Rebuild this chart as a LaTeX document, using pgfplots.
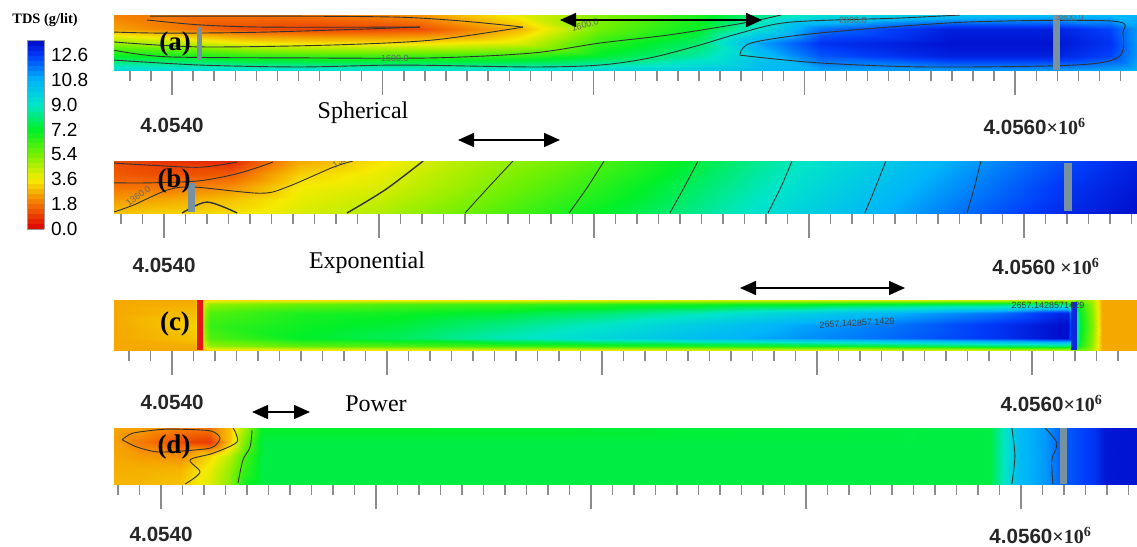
\documentclass[border=0pt]{standalone}
\usepackage{fontspec}
\setmainfont{Liberation Serif}
\newfontfamily\arial{Liberation Sans}
\usepackage{pgfplots}
\pgfplotsset{compat=1.18}
\usetikzlibrary{calc,arrows.meta}
\definecolor{wellgray}{RGB}{120,145,160}
\pgfplotsset{
 colormap={tds}{rgb255(0pt)=(220,0,0); rgb255(18pt)=(245,115,0); rgb255(36pt)=(245,235,0); rgb255(54pt)=(120,240,0); rgb255(72pt)=(0,240,40); rgb255(90pt)=(0,230,200); rgb255(108pt)=(0,180,250); rgb255(126pt)=(0,60,250); rgb255(137pt)=(0,10,200)},
 panel/.style={
  scale only axis, width=511.5pt, anchor=north west,
  ymin=0, ymax=1, enlargelimits=false,
  axis line style={draw=none},
  ytick=\empty, xtick={0,10,20,30,40},
  xtick pos=left, tick align=outside,
  major tick length=12.5pt, minor tick length=5.5pt,
  tick style={color=black!45, line width=0.7pt},
  xticklabel style={font=\arial\bfseries\fontsize{10.3}{12}\selectfont, text=black!85, yshift=-6.6pt},
  colormap name=tds, point meta min=0, point meta max=13.7,
 },
 field/.style={surf, shader=interp, mesh/ordering=y varies, point meta=explicit},
 cont/.style={black!80, line width=0.45pt, smooth, mark=none},
 well/.style={fill=wellgray, draw=none, mark=none},
}
\tikzset{clab/.style={font=\arial\fontsize{4.5}{5}\selectfont, text=black!60, inner sep=0pt}}
\begin{document}
\begin{tikzpicture}
\useasboundingbox (0,0) rectangle (568.5pt,-273.5pt);
% ---------------- (a) Spherical
\begin{axis}[panel, at={(57pt,-7.5pt)}, height=27.5pt, xmin=-2.75, xmax=45.78,
  minor xtick={-2,-1,...,45},
  xticklabels={{4.0540},{},{},{},{4.0560\rlap{\rmfamily\bfseries\fontsize{10}{12}\selectfont ×10\textsuperscript{6}}}},
  xticklabel style={yshift=-1.5pt},
  colorbar sampled,
  colorbar style={at={($(parent axis.north west)+(-52pt,-12.5pt)$)}, anchor=north west,
    scale only axis, width=8.5pt, height=94.5pt, samples=38,
    ytick={0,1.8,3.6,5.4,7.2,9,10.8,12.6},
    yticklabels={0.0,1.8,3.6,5.4,7.2,9.0,10.8,12.6},
    yticklabel style={font=\arial\fontsize{9.5}{11}\selectfont},
    major tick length=0pt, axis line style={draw=black!40}}]
\addplot[field, mesh/rows=5, mesh/cols=14] table[meta=v] {
x y v
-2.75 0 9.5
-2.75 0.25 7.2
-2.75 0.5 5.0
-2.75 0.75 2.5
-2.75 1 2.0
0 0 9.5
0 0.25 7.0
0 0.5 4.5
0 0.75 2.0
0 1 1.8
3.70 0 9.3
3.70 0.25 6.5
3.70 0.5 3.6
3.70 0.75 1.2
3.70 1 1.8
7.50 0 9.3
7.50 0.25 6.3
7.50 0.5 3.4
7.50 0.75 1.0
7.50 1 1.9
11.76 0 9.3
11.76 0.25 6.3
11.76 0.5 3.4
11.76 0.75 1.2
11.76 1 2.3
16.51 0 9.3
16.51 0.25 6.5
16.51 0.5 4.0
16.51 0.75 2.8
16.51 1 3.8
20.30 0 9.5
20.30 0.25 7.3
20.30 0.5 6.5
20.30 0.75 5.5
20.30 1 5.2
25.05 0 10.0
25.05 0.25 8.6
25.05 0.5 8.0
25.05 0.75 7.2
25.05 1 6.8
27.80 0 10.5
27.80 0.25 10.2
27.80 0.5 11.0
27.80 0.75 9.2
27.80 1 8.2
30.79 0 11.0
30.79 0.25 12.2
30.79 0.5 12.8
30.79 0.75 11.8
30.79 1 9.2
36.91 0 11.2
36.91 0.25 13.2
36.91 0.5 13.5
36.91 0.75 13.2
36.91 1 10.2
41.65 0 11.2
41.65 0.25 13.2
41.65 0.5 13.5
41.65 0.75 13.2
41.65 1 10.5
44.50 0 11.0
44.50 0.25 12.5
44.50 0.5 12.8
44.50 0.75 12.5
44.50 1 10.6
45.78 0 10.8
45.78 0.25 11.2
45.78 0.5 11.2
45.78 0.75 11.2
45.78 1 10.8
};
% contours
\addplot[cont] coordinates {(-1.19,0.91) (1.33,0.82) (4.51,0.78) (11.76,0.78)};
\addplot[cont] coordinates {(-2.75,0.69) (-0.24,0.67) (4.51,0.69) (11.76,0.78)};
\addplot[cont] coordinates {(-1.04,0.98) (10.82,0.96) (16.65,0.78)};
\addplot[cont] coordinates {(-2.75,0.51) (1.33,0.42) (7.64,0.455) (12.38,0.545) (16.65,0.78)};
\addplot[cont] coordinates {(-2.75,0.36) (-0.24,0.24) (6.07,0.22) (12.38,0.22) (17.13,0.31) (20.30,0.49) (23.62,0.64) (27.13,0.855) (28.89,1.0)};
\addplot[cont] coordinates {(-2.75,0.18) (1.33,0.09) (6.07,0.055) (10.82,0.09) (17.13,0.055) (20.30,0.09) (22.68,0.22) (25.05,0.455) (26.94,0.67) (29.32,0.87) (34.54,0.945) (37.38,1.0)};
\addplot[cont] coordinates {(26.94,0.27) (27.47,0.49) (30.65,0.67) (37.62,0.87) (44.59,0.89) (45.11,0.67) (44.92,0.24) (42.84,0.09) (35.86,0.055) (30.65,0.13) (26.94,0.27)};
% wells
\addplot[well] coordinates {(1.19,0.18) (1.42,0.18) (1.42,0.78) (1.19,0.78)} --cycle;
\addplot[well] coordinates {(41.79,0) (42.13,0) (42.13,1) (41.79,1)} --cycle;
\node[clab] at (axis cs:10.58,0.22) {1600.0};
\node[clab,rotate=15] at (axis cs:19.6,0.82) {1600.0};
\node[clab] at (axis cs:32.3,0.91) {2800.0};
\node[clab] at (axis cs:42.6,0.96) {3800.0};
\end{axis}
% ---------------- (b) Exponential
\begin{axis}[panel, at={(57pt,-80.5pt)}, height=26pt, xmin=-2.33, xmax=45.26,
  minor xtick={-2,-1,...,45},
  xticklabels={{4.0540},{},{},{},{4.0560\rlap{\rmfamily\bfseries\fontsize{10}{12}\selectfont\ ×10\textsuperscript{6}}}}]
\addplot[field, mesh/rows=5, mesh/cols=13] table[meta=v] {
x y v
-2.33 0 3.0
-2.33 0.25 2.4
-2.33 0.5 1.8
-2.33 0.75 1.4
-2.33 1 1.2
0 0 3.2
0 0.25 2.6
0 0.5 1.8
0 0.75 1.2
0 1 0.8
3.07 0 3.4
3.07 0.25 3.0
3.07 0.5 2.2
3.07 0.75 1.4
3.07 1 0.6
6.33 0 4.0
6.33 0.25 3.8
6.33 0.5 3.6
6.33 0.75 3.2
6.33 1 2.6
10.05 0 4.6
10.05 0.25 4.3
10.05 0.5 4.0
10.05 0.75 3.8
10.05 1 3.5
13.77 0 5.5
13.77 0.25 5.2
13.77 0.5 4.9
13.77 0.75 4.7
13.77 1 4.5
18.42 0 6.7
18.42 0.25 6.4
18.42 0.5 6.1
18.42 0.75 5.8
18.42 1 5.5
23.07 0 7.9
23.07 0.25 7.6
23.07 0.5 7.4
23.07 0.75 7.1
23.07 1 6.9
27.72 0 9.2
27.72 0.25 9.0
27.72 0.5 8.8
27.72 0.75 8.6
27.72 1 8.4
32.37 0 10.5
32.37 0.25 10.3
32.37 0.5 10.1
32.37 0.75 9.9
32.37 1 9.7
37.02 0 11.8
37.02 0.25 11.6
37.02 0.5 11.4
37.02 0.75 11.2
37.02 1 11.0
41.67 0 13.0
41.67 0.25 12.8
41.67 0.5 12.7
41.67 0.75 12.5
41.67 1 12.3
45.26 0 13.6
45.26 0.25 13.5
45.26 0.5 13.4
45.26 0.75 13.3
45.26 1 13.2
};
\addplot[cont] coordinates {(-2.33,0.96) (-0.65,0.92) (1.67,0.88) (3.40,0.98)};
\addplot[cont] coordinates {(-2.33,0.58) (-0.65,0.58) (1.67,0.62) (3.53,0.77) (5.07,0.98)};
\addplot[cont] coordinates {(-2.33,0.02) (-1.44,0.15) (0.14,0.44) (1.35,0.50) (4.47,0.38) (5.72,0.50) (7.86,0.88) (8.79,1.0)};
\addplot[cont, line width=0.7pt] coordinates {(0.84,0) (2.00,0.21) (3.40,0)};
\addplot[cont, line width=0.7pt] coordinates {(8.51,0) (10.3,0.45) (12.05,1)};
\addplot[cont] coordinates {(14.00,0) (15.1,0.5) (16.23,1)};
\addplot[cont] coordinates {(18.84,0) (19.7,0.5) (20.47,1)};
\addplot[cont] coordinates {(23.53,0) (24.2,0.5) (24.84,1)};
\addplot[cont] coordinates {(28.09,0) (28.7,0.5) (29.21,1)};
\addplot[cont] coordinates {(32.60,0) (33.1,0.5) (33.58,1)};
\addplot[cont] coordinates {(37.35,0) (37.7,0.5) (38.00,1)};
\addplot[well] coordinates {(1.12,0.02) (1.44,0.02) (1.44,0.58) (1.12,0.58)} --cycle;
\addplot[well] coordinates {(41.86,0.04) (42.23,0.04) (42.23,0.96) (41.86,0.96)} --cycle;
\node[clab,rotate=35] at (axis cs:8.4,1.05) {1360.0};
\node[clab,rotate=35] at (axis cs:-1.2,0.33) {1360.0};
\end{axis}
% ---------------- (c) Power
\begin{axis}[panel, at={(57pt,-150pt)}, height=25pt, xmin=-2.70, xmax=44.88,
  minor xtick={-2,-1,...,44},
  xticklabels={{4.0540},{},{},{},{4.0560\rlap{\rmfamily\bfseries\fontsize{10}{12}\selectfont ×10\textsuperscript{6}}}}]
\addplot[field, mesh/rows=7, mesh/cols=17] table[meta=v] {
x y v
-2.70 0 2.6
-2.70 0.08 2.6
-2.70 0.25 2.6
-2.70 0.5 2.6
-2.70 0.75 2.6
-2.70 0.92 2.6
-2.70 1 2.6
1.07 0 2.6
1.07 0.08 2.7
1.07 0.25 3.0
1.07 0.5 3.2
1.07 0.75 2.9
1.07 0.92 2.7
1.07 1 2.6
1.77 0 3.4
1.77 0.08 5.0
1.77 0.25 6.0
1.77 0.5 6.4
1.77 0.75 6.0
1.77 0.92 5.0
1.77 1 3.4
5.95 0 3.6
5.95 0.08 5.8
5.95 0.25 7.2
5.95 0.5 7.0
5.95 0.75 6.8
5.95 0.92 5.6
5.95 1 3.4
10.60 0 3.6
10.60 0.08 6.0
10.60 0.25 7.8
10.60 0.5 7.4
10.60 0.75 7.0
10.60 0.92 6.0
10.60 1 3.6
15.26 0 3.8
15.26 0.08 6.3
15.26 0.25 8.8
15.26 0.5 8.2
15.26 0.75 7.4
15.26 0.92 6.2
15.26 1 3.6
19.91 0 3.8
19.91 0.08 6.6
19.91 0.25 9.6
19.91 0.5 9.0
19.91 0.75 8.0
19.91 0.92 6.5
19.91 1 3.8
24.56 0 4.0
24.56 0.08 6.8
24.56 0.25 10.5
24.56 0.5 10.0
24.56 0.75 8.8
24.56 0.92 6.8
24.56 1 4.0
29.21 0 4.0
29.21 0.08 7.0
29.21 0.25 11.3
29.21 0.5 11.0
29.21 0.75 9.8
29.21 0.92 7.0
29.21 1 4.0
33.86 0 4.0
33.86 0.08 7.4
33.86 0.25 12.0
33.86 0.5 11.8
33.86 0.75 10.8
33.86 0.92 7.4
33.86 1 4.0
38.51 0 4.2
38.51 0.08 7.8
38.51 0.25 12.8
38.51 0.5 12.8
38.51 0.75 11.8
38.51 0.92 7.8
38.51 1 4.2
41.30 0 4.4
41.30 0.08 8.0
41.30 0.25 13.6
41.30 0.5 13.6
41.30 0.75 13.0
41.30 0.92 8.0
41.30 1 4.4
41.67 0 4.4
41.67 0.08 7.8
41.67 0.25 13.6
41.67 0.5 13.6
41.67 0.75 13.0
41.67 0.92 7.8
41.67 1 4.4
42.23 0 5.5
42.23 0.08 6.8
42.23 0.25 7.2
42.23 0.5 7.4
42.23 0.75 7.2
42.23 0.92 6.8
42.23 1 5.5
42.79 0 4.6
42.79 0.08 5.0
42.79 0.25 5.2
42.79 0.5 5.4
42.79 0.75 5.2
42.79 0.92 5.0
42.79 1 4.6
43.26 0 2.6
43.26 0.08 2.6
43.26 0.25 2.6
43.26 0.5 2.6
43.26 0.75 2.6
43.26 0.92 2.6
43.26 1 2.6
44.88 0 2.6
44.88 0.08 2.6
44.88 0.25 2.6
44.88 0.5 2.6
44.88 0.75 2.6
44.88 0.92 2.6
44.88 1 2.6
};
\addplot[fill={rgb,255:red,230;green,20;blue,20}, draw=none] coordinates {(1.16,0) (1.44,0) (1.44,1) (1.16,1)} --cycle;
\addplot[fill={rgb,255:red,10;green,40;blue,220}, draw=none] coordinates {(41.81,0) (42.09,0) (42.09,0.96) (41.81,0.96)} --cycle;
\node[clab, text=black!75, rotate=3] at (axis cs:31.86,0.54) {2657.142857 1429};
\node[clab, text=black!75] at (axis cs:40.74,0.9) {2657.1428571429};
\end{axis}
% ---------------- (d)
\begin{axis}[panel, at={(57pt,-214pt)}, height=28pt, xmin=-2.19, xmax=45.40,
  minor xtick={-2,-1,...,45},
  xticklabel style={yshift=1pt},
  xticklabels={{4.0540},{},{},{},{4.0560\rlap{\rmfamily\bfseries\fontsize{10}{12}\selectfont ×10\textsuperscript{6}}}}]
\addplot[field, mesh/rows=5, mesh/cols=15] table[meta=v] {
x y v
-2.19 0 2.8
-2.19 0.25 2.7
-2.19 0.5 2.6
-2.19 0.75 2.5
-2.19 1 2.6
-0.98 0 2.8
-0.98 0.25 2.7
-0.98 0.5 2.4
-0.98 0.75 1.9
-0.98 1 2.5
0.88 0 3.0
0.88 0.25 2.8
0.88 0.5 2.2
0.88 0.75 1.2
0.88 1 2.0
2.28 0 4.0
2.28 0.25 3.8
2.28 0.5 3.3
2.28 0.75 0.9
2.28 1 1.9
3.21 0 5.2
3.21 0.25 5.0
3.21 0.5 4.5
3.21 0.75 3.0
3.21 1 3.0
3.91 0 7.0
3.91 0.25 6.5
3.91 0.5 6.2
3.91 0.75 5.5
3.91 1 4.8
4.70 0 7.5
4.70 0.25 7.5
4.70 0.5 7.5
4.70 0.75 7.5
4.70 1 7.2
38.56 0 7.5
38.56 0.25 7.5
38.56 0.5 7.5
38.56 0.75 7.5
38.56 1 7.5
39.58 0 9.8
39.58 0.25 9.8
39.58 0.5 9.8
39.58 0.75 9.8
39.58 1 9.8
39.95 0 10.6
39.95 0.25 10.6
39.95 0.5 10.6
39.95 0.75 10.6
39.95 1 10.6
41.12 0 11.2
41.12 0.25 11.2
41.12 0.5 11.2
41.12 0.75 11.2
41.12 1 11.2
41.81 0 12.0
41.81 0.25 12.0
41.81 0.5 12.0
41.81 0.75 12.0
41.81 1 12.0
43.44 0 12.8
43.44 0.25 12.8
43.44 0.5 12.8
43.44 0.75 12.8
43.44 1 12.8
43.91 0 13.4
43.91 0.25 13.4
43.91 0.5 13.4
43.91 0.75 13.4
43.91 1 13.4
45.40 0 13.5
45.40 0.25 13.5
45.40 0.5 13.5
45.40 0.75 13.5
45.40 1 13.5
};
\addplot[cont, smooth, tension=0.4] coordinates {(-1.81,0.79) (-1.30,0.91) (0.28,0.98) (2.28,0.95) (2.74,0.82) (2.28,0.64) (-0.05,0.57) (-1.12,0.66) (-1.81,0.79)};
\addplot[cont] coordinates {(3.35,1.0) (3.53,0.75) (2.42,0.55) (1.35,0.43) (1.81,0.21) (1.12,0)};
\addplot[cont] coordinates {(4.23,0.96) (4.14,0.66) (3.81,0.43) (3.58,0.02)};
\addplot[cont] coordinates {(39.58,1) (39.72,0.5) (39.58,0)};
\addplot[cont] coordinates {(41.12,1) (41.67,0.73) (41.44,0.43) (41.49,0)};
\addplot[cont] coordinates {(43.67,1) (43.67,0)};
\addplot[well] coordinates {(41.81,0) (42.14,0) (42.14,1) (41.81,1)} --cycle;
\end{axis}
% ---------------- annotations
\node[font=\bfseries\fontsize{7.2}{8}\selectfont] at (22.5pt,-10pt) {TDS (g/lit)};
\node[font=\bfseries\fontsize{13.5}{15}\selectfont] at (87.5pt,-22pt) {(a)};
\node[font=\bfseries\fontsize{13.5}{15}\selectfont] at (87pt,-90.5pt) {(b)};
\node[font=\bfseries\fontsize{13.5}{15}\selectfont] at (87.5pt,-162pt) {(c)};
\node[font=\bfseries\fontsize{13.5}{15}\selectfont] at (87pt,-223.5pt) {(d)};
\node[font=\fontsize{12}{14}\selectfont] at (181.5pt,-56.5pt) {Spherical};
\node[font=\fontsize{12}{14}\selectfont] at (183.5pt,-131.5pt) {Exponential};
\node[font=\fontsize{12}{14}\selectfont] at (188pt,-202pt) {Power};
\tikzset{dbl/.style={line width=0.8pt, {Triangle[length=8pt,width=7pt]}-{Triangle[length=8pt,width=7pt]}}}
\draw[dbl] (280pt,-10pt) -- (381pt,-10pt);
\draw[dbl] (229pt,-70pt) -- (280pt,-70pt);
\draw[dbl] (370pt,-144pt) -- (452.5pt,-144pt);
\draw[dbl] (126pt,-206pt) -- (155pt,-206pt);
\end{tikzpicture}
\end{document}
